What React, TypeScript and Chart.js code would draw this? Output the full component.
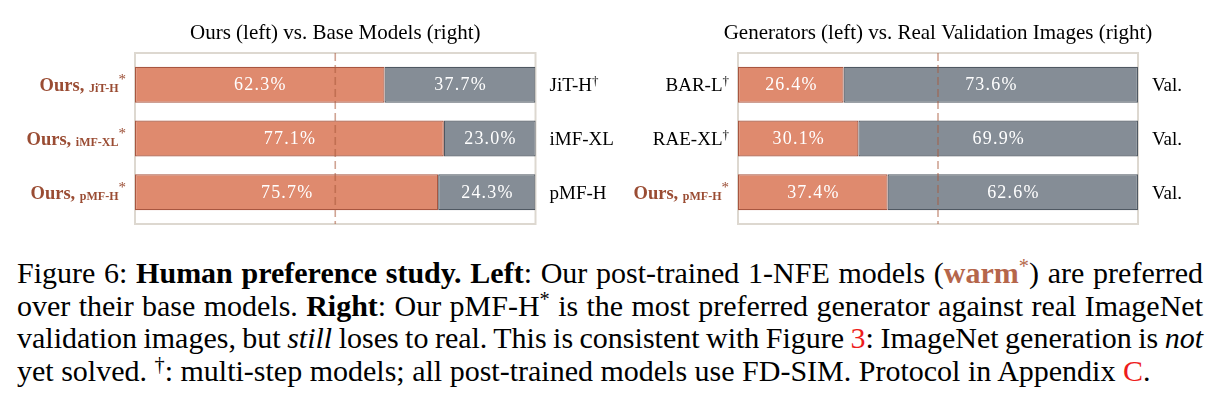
import React, { useEffect, useRef } from "react";
import { Chart, registerables } from "chart.js";

Chart.register(...registerables);

// ---------------- data ----------------
const leftTitle = "Ours (left) vs. Base Models (right)";
const leftOursModels = ["JiT-H", "iMF-XL", "pMF-H"];
const leftBaseModels = ["JiT-H", "iMF-XL", "pMF-H"];
const leftBaseMultiStep = [true, false, false];
const leftOursShare = [62.3, 77.1, 75.7];
const leftBaseShare = [37.7, 23.0, 24.3];

const rightTitle = "Generators (left) vs. Real Validation Images (right)";
const rightGenModels = ["BAR-L", "RAE-XL", "pMF-H"];
const rightGenIsOurs = [false, false, true];
const rightGenMultiStep = [true, true, false];
const rightRealLabels = ["Val.", "Val.", "Val."];
const rightGenShare = [26.4, 30.1, 37.4];
const rightRealShare = [73.6, 69.9, 62.6];

const tieValue = 50;

// ---------------- styles ----------------
const SERIF = '"Liberation Serif", "Times New Roman", serif';
const ORANGE = "#df8a6e";
const ORANGE_EDGE = "#a85640";
const GREY = "#858d96";
const GREY_EDGE = "#4f5862";
const BROWN = "#9a4c33";
const WARM_TEXT = "#b5664b";
const FRAME = "#ddd8d0";
const DASH = "rgba(170,90,60,0.55)";
const LINK_RED = "#ee1c1c";

type Seg = { t: string; font: string; color: string; dy: number };

function labelSegs(name: string, ours: boolean, dagger: boolean): Seg[] {
  if (ours) {
    return [
      { t: "Ours, ", font: `bold 18.5px ${SERIF}`, color: BROWN, dy: 0 },
      { t: name, font: `bold 12px ${SERIF}`, color: BROWN, dy: 1 },
      { t: "*", font: `15px ${SERIF}`, color: BROWN, dy: -7 },
    ];
  }
  const s: Seg[] = [{ t: name, font: `19px ${SERIF}`, color: "#000", dy: 0 }];
  if (dagger) s.push({ t: "\u2020", font: `13px ${SERIF}`, color: "#000", dy: -6 });
  return s;
}

function drawSegs(ctx: CanvasRenderingContext2D, segs: Seg[], x: number, yBase: number, align: "left" | "right") {
  const widths = segs.map((s) => {
    ctx.font = s.font;
    return ctx.measureText(s.t).width;
  });
  const total = widths.reduce((a, b) => a + b, 0);
  let cx = align === "right" ? x - total : x;
  ctx.textAlign = "left";
  ctx.textBaseline = "alphabetic";
  segs.forEach((s, i) => {
    ctx.font = s.font;
    ctx.fillStyle = s.color;
    ctx.fillText(s.t, cx, yBase + s.dy);
    cx += widths[i];
  });
}

type PanelProps = {
  x: number;
  w: number;
  title: string;
  leftLabels: Seg[][];
  rightLabels: Seg[][];
  warmShare: number[];
  coolShare: number[];
  padLeft: number;
  padRight: number;
};

function BarPanel(props: PanelProps) {
  const ref = useRef<HTMLCanvasElement>(null);
  useEffect(() => {
    const { title, leftLabels, rightLabels, warmShare, coolShare, padLeft, padRight } = props;
    const decor = {
      id: "decor",
      beforeDatasetsDraw(chart: any) {
        const { ctx, chartArea } = chart;
        ctx.save();
        ctx.strokeStyle = FRAME;
        ctx.lineWidth = 2;
        ctx.strokeRect(chartArea.left, chartArea.top, chartArea.right - chartArea.left, chartArea.bottom - chartArea.top);
        ctx.restore();
      },
      afterDatasetsDraw(chart: any) {
        const { ctx, chartArea, scales } = chart;
        const xs = scales.x;
        const ys = scales.y;
        ctx.save();
        // title
        ctx.fillStyle = "#000";
        ctx.font = `21px ${SERIF}`;
        ctx.textAlign = "center";
        ctx.textBaseline = "middle";
        ctx.fillText(title, (chartArea.left + chartArea.right) / 2, chartArea.top - 20);
        // tie line
        const px = xs.getPixelForValue(tieValue);
        ctx.strokeStyle = DASH;
        ctx.lineWidth = 1.6;
        ctx.setLineDash([8, 4]);
        ctx.beginPath();
        ctx.moveTo(px, chartArea.top);
        ctx.lineTo(px, chartArea.bottom);
        ctx.stroke();
        ctx.setLineDash([]);
        // value labels
        ctx.fillStyle = "#ffffff";
        ctx.font = `18px ${SERIF}`;
        ctx.textAlign = "center";
        ctx.textBaseline = "middle";
        (ctx as any).letterSpacing = "1.2px";
        chart.data.datasets.forEach((ds: any, di: number) => {
          const meta = chart.getDatasetMeta(di);
          meta.data.forEach((el: any, i: number) => {
            const v = ds.data[i].x;
            const cx = (el.x + el.base) / 2 + 0.6;
            ctx.fillText(`${v.toFixed(1)}%`, cx, el.y + 1);
          });
        });
        (ctx as any).letterSpacing = "0px";
        // row labels
        leftLabels.forEach((segs, i) => {
          const y = ys.getPixelForValue(i);
          drawSegs(ctx, segs, chartArea.left - 9, y + 6.5, "right");
        });
        rightLabels.forEach((segs, i) => {
          const y = ys.getPixelForValue(i);
          drawSegs(ctx, segs, chartArea.right + 14, y + 6.5, "left");
        });
        ctx.restore();
      },
    };

    const chart = new Chart(ref.current as HTMLCanvasElement, {
      type: "bar",
      data: {
        datasets: [
          {
            data: warmShare.map((v, i) => ({ x: v, y: i })),
            backgroundColor: ORANGE,
            borderColor: ORANGE_EDGE,
            borderWidth: 1.2,
            borderSkipped: false,
            barPercentage: 0.67,
            categoryPercentage: 1,
          },
          {
            data: coolShare.map((v, i) => ({ x: v, y: i })),
            backgroundColor: GREY,
            borderColor: GREY_EDGE,
            borderWidth: 1.2,
            borderSkipped: false,
            barPercentage: 0.67,
            categoryPercentage: 1,
          },
        ],
      } as any,
      options: {
        indexAxis: "y",
        animation: false,
        responsive: false,
        layout: { padding: { left: padLeft, right: padRight, top: 53, bottom: 16 } },
        scales: {
          x: { type: "linear", min: 0, max: 100, stacked: true, display: false, offset: false },
          y: {
            type: "linear",
            min: -0.59,
            max: 2.59,
            reverse: true,
            stacked: true,
            display: false,
            offset: false,
            grid: { offset: false },
            ticks: { stepSize: 1, includeBounds: false },
          },
        },
        plugins: {
          legend: { display: false },
          tooltip: { enabled: false },
          title: { display: false },
        },
      } as any,
      plugins: [decor],
    });
    return () => chart.destroy();
  }, []);
  return (
    <canvas
      ref={ref}
      width={props.w}
      height={240}
      style={{ position: "absolute", left: props.x, top: 0, width: props.w, height: 240 }}
    />
  );
}

function Caption() {
  const line: React.CSSProperties = { textAlign: "justify", textAlignLast: "justify" as any, whiteSpace: "nowrap" };
  const sup: React.CSSProperties = { fontSize: "0.68em", verticalAlign: "0.5em", lineHeight: 0 };
  return (
    <div
      style={{
        position: "absolute",
        left: 17,
        top: 257,
        width: 1186,
        fontFamily: SERIF,
        fontSize: 30,
        lineHeight: "32.6px",
        color: "#000",
      }}
    >
      <div style={line}>
        Figure 6: <b>Human preference study.</b> <b>Left</b>: Our post-trained 1-NFE models (
        <b style={{ color: WARM_TEXT }}>warm</b>
        <span style={{ ...sup, color: WARM_TEXT }}>*</span>) are preferred
      </div>
      <div style={{ ...line, wordSpacing: "-1px" }}>
        over their base models. <b>Right</b>: Our pMF-H<span style={sup}>*</span> is the most preferred generator against real ImageNet
      </div>
      <div style={{ ...line, wordSpacing: "-1.6px" }}>
        validation images, but <i>still</i> loses to real. This is consistent with Figure <span style={{ color: LINK_RED }}>3</span>: ImageNet generation is <i>not</i>
      </div>
      <div style={{ whiteSpace: "nowrap" }}>
        yet solved. <span style={sup}>{"\u2020"}</span>: multi-step models; all post-trained models use FD-SIM. Protocol in Appendix{" "}
        <span style={{ color: LINK_RED }}>C</span>.
      </div>
    </div>
  );
}

export default function App() {
  const leftL = leftOursModels.map((m) => labelSegs(m, true, false));
  const leftR = leftBaseModels.map((m, i) => labelSegs(m, false, leftBaseMultiStep[i]));
  const rightL = rightGenModels.map((m, i) => labelSegs(m, rightGenIsOurs[i], rightGenMultiStep[i]));
  const rightR = rightRealLabels.map((m) => labelSegs(m, false, false));
  return (
    <div style={{ position: "absolute", left: 0, top: 0, width: 1220, height: 406, background: "#fff", overflow: "hidden" }}>
      <BarPanel x={0} w={640} title={leftTitle} leftLabels={leftL} rightLabels={leftR} warmShare={leftOursShare} coolShare={leftBaseShare} padLeft={135} padRight={104.5} />
      <BarPanel x={610} w={610} title={rightTitle} leftLabels={rightL} rightLabels={rightR} warmShare={rightGenShare} coolShare={rightRealShare} padLeft={128} padRight={82} />
      <Caption />
    </div>
  );
}
